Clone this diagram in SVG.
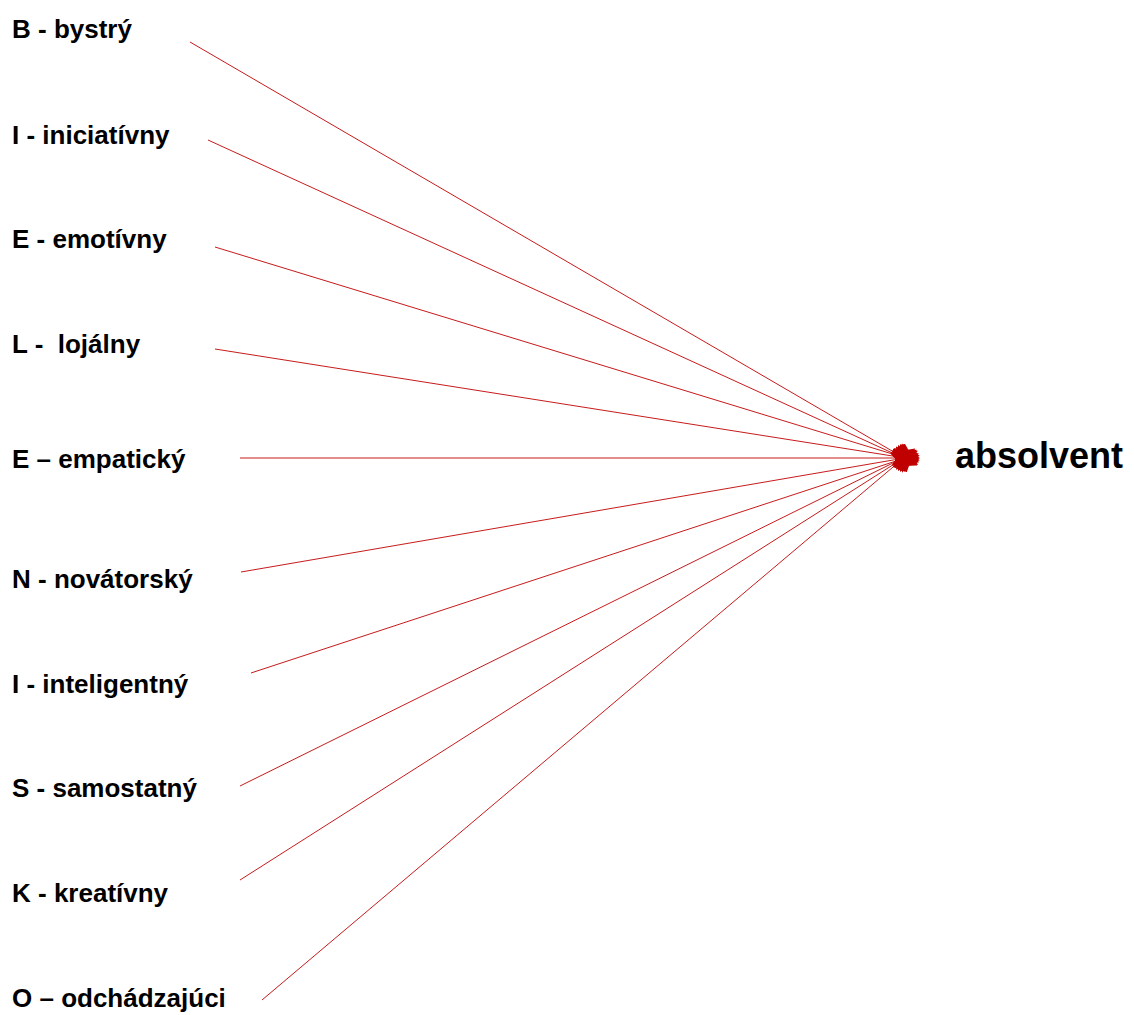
<svg xmlns="http://www.w3.org/2000/svg" width="1134" height="1015" viewBox="0 0 1134 1015">
<style>
.lbl{font-family:"Liberation Sans",Arial,sans-serif;font-weight:bold;font-size:26px;fill:#000}
.big{font-family:"Liberation Sans",Arial,sans-serif;font-weight:bold;font-size:36px;fill:#000}
.ln{stroke:#C00000;stroke-width:0.9;fill:none;marker-end:url(#ah)}
</style>
<defs>
<marker id="ah" markerUnits="userSpaceOnUse" viewBox="0 0 22 26" markerWidth="22" markerHeight="26" refX="1" refY="13" orient="auto">
<path d="M0,0 L22,13 L0,26 Z" fill="#C00000"/>
</marker>
</defs>
<rect width="1134" height="1015" fill="#fff"/>
<g id="connectors">
<line class="ln" x1="190" y1="42" x2="899" y2="455"/>
<line class="ln" x1="208" y1="140" x2="899" y2="456"/>
<line class="ln" x1="215" y1="247" x2="899" y2="456"/>
<line class="ln" x1="215" y1="349" x2="899" y2="457"/>
<line class="ln" x1="240" y1="458" x2="899" y2="458"/>
<line class="ln" x1="241" y1="572" x2="899" y2="459"/>
<line class="ln" x1="251" y1="673" x2="899" y2="460"/>
<line class="ln" x1="240" y1="786" x2="899" y2="460"/>
<line class="ln" x1="240" y1="880" x2="899" y2="461"/>
<line class="ln" x1="262" y1="1000" x2="899" y2="462"/>
</g>
<g id="n1"><text class="lbl" x="12" y="38">B - bystrý</text></g>
<g id="n2"><text class="lbl" x="12" y="144">I - iniciatívny</text></g>
<g id="n3"><text class="lbl" x="12" y="248">E - emotívny</text></g>
<g id="n4"><text class="lbl" x="12" y="353" xml:space="preserve">L -  lojálny</text></g>
<g id="n5"><text class="lbl" x="12" y="468">E – empatický</text></g>
<g id="n6"><text class="lbl" x="12" y="588">N - novátorský</text></g>
<g id="n7"><text class="lbl" x="12" y="693">I - inteligentný</text></g>
<g id="n8"><text class="lbl" x="12" y="797">S - samostatný</text></g>
<g id="n9"><text class="lbl" x="12" y="902">K - kreatívny</text></g>
<g id="n10"><text class="lbl" x="12" y="1007">O – odchádzajúci</text></g>
<g id="target"><text class="big" x="955" y="468">absolvent</text></g>
</svg>
